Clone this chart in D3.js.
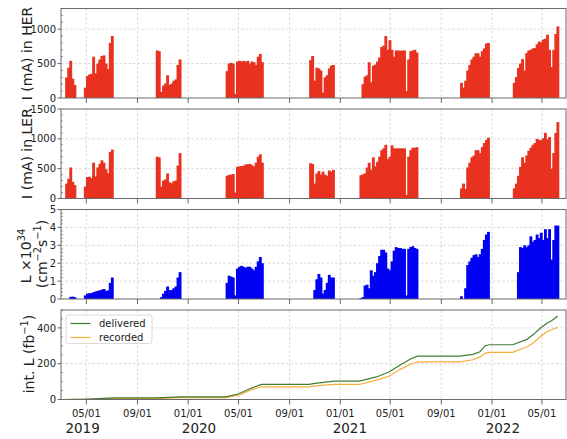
<!DOCTYPE html>
<html>
<head>
<meta charset="utf-8">
<script src="https://cdn.jsdelivr.net/npm/d3@7"></script>
<style>
  body { margin: 0; background: #fff; }
  text { font-family: "DejaVu Sans", sans-serif; fill: #222; }
</style>
</head>
<body>
<svg id="chart" width="567" height="439"></svg>
<script>
const parse = d3.timeParse('%Y-%m-%d');

// each run is a sequence of 5-day bins starting at runStarts[i]
const BIN_DAYS = 5;
const runStarts = ['2019-03-11', '2019-04-25', '2019-10-15', '2020-03-31',
  '2020-10-18', '2021-02-16', '2021-10-16', '2022-02-20'];

const herRuns = [
  [300, 440, 540, 280, 190],
  [150, 320, 340, 350, 600, 360, 500, 560, 610, 620, 500, 420, 800, 900],
  [690, 680, 90, 180, 210, 330, 190, 210, 250, 270, 480, 560],
  [390, 500, 510, 500, 60, 530, 540, 530, 540, 530, 540, 500, 530, 520, 480, 600, 640, 520],
  [550, 610, 250, 440, 430, 400, 80, 300, 330, 430, 470, 480],
  [0, 200, 310, 330, 520, 230, 470, 485, 530, 590, 740, 760, 900, 700, 840, 700, 600, 690,
    690, 685, 690, 690, 100, 560, 680, 690, 700, 660],
  [220, 150, 250, 400, 480, 560, 600, 650, 650, 600, 680, 720, 790, 800],
  [220, 304, 435, 500, 565, 400, 652, 690, 700, 720, 725, 780, 820, 810, 850, 860, 920, 700,
    450, 700, 930, 1040]
];

const lerRuns = [
  [250, 330, 520, 280, 225],
  [200, 360, 365, 340, 600, 370, 520, 580, 640, 600, 490, 420, 780, 820],
  [700, 690, 200, 300, 320, 420, 270, 255, 290, 300, 550, 760],
  [380, 395, 400, 410, 100, 530, 540, 545, 550, 570, 575, 580, 560, 540, 600, 700, 740, 600],
  [590, 580, 250, 420, 460, 400, 450, 400, 380, 470, 450, 480],
  [390, 405, 420, 520, 600, 480, 690, 540, 615, 700, 810, 840, 900, 660, 700, 890, 840, 840,
    840, 840, 840, 840, 60, 700, 810, 850, 850, 860],
  [170, 250, 160, 520, 600, 690, 720, 810, 810, 760, 860, 930, 980, 1020],
  [170, 250, 380, 530, 690, 600, 720, 800, 850, 900, 930, 1000, 980, 980, 1010, 1100, 990,
    1030, 500, 760, 1100, 1280]
];

const lumiRuns = [
  [0, 0, 0.12, 0.13, 0.1],
  [0.2, 0.3, 0.32, 0.33, 0.38, 0.42, 0.45, 0.48, 0.52, 0.56, 0.45, 0.48, 0.9, 1.2],
  [0, 0, 0.1, 0.3, 0.45, 0.7, 0.5, 0.5, 0.6, 0.7, 1.2, 1.5],
  [0.9, 1.3, 1.25, 1.2, 0.2, 1.7, 1.8, 1.85, 1.8, 1.75, 1.8, 1.8, 1.7, 1.6, 1.8, 2.1, 2.35, 2.0],
  [0, 0, 0.5, 1.1, 1.4, 1.2, 0.3, 0.5, 0.9, 1.35, 1.2, 1.2],
  [0.05, 0.1, 0.75, 0.8, 0.6, 1.6, 1.3, 1.5, 2.0, 2.4, 2.75, 2.75, 2.6, 1.7, 1.6, 2.1, 2.7, 2.9,
    2.85, 2.85, 2.8, 2.8, 0.2, 2.8, 2.9, 2.95, 2.85, 2.8],
  [0.15, 0, 0.6, 1.9, 2.1, 2.3, 2.45, 2.5, 2.35, 2.5, 2.8, 3.3, 3.6, 3.75],
  [0, 0, 1.5, 2.9, 2.85, 3.0, 2.9, 3.0, 3.5, 3.2, 3.3, 3.6, 3.4, 3.7, 3.3, 3.9, 3.4, 3.9,
    2.2, 3.3, 4.1, 4.1]
];

// integrated luminosity (fb^-1)
const intDates = ['2019-03-01', '2019-03-11', '2019-04-05', '2019-04-25', '2019-07-04',
  '2019-10-15', '2019-12-14', '2020-03-31', '2020-05-02', '2020-05-28', '2020-06-25',
  '2020-10-18', '2020-11-01', '2020-12-17', '2021-02-16', '2021-03-29', '2021-04-28',
  '2021-05-24', '2021-06-21', '2021-07-06', '2021-10-16', '2021-11-16', '2021-12-03',
  '2021-12-15', '2021-12-25', '2022-02-20', '2022-03-26', '2022-04-11', '2022-04-27',
  '2022-05-13', '2022-05-25', '2022-06-08'];
const intDelivered = [0, 0, 0.5, 0.5, 9, 9, 15, 15, 32, 60, 84, 84, 90, 103, 103, 126, 154,
  191, 229, 242, 242, 252, 267, 299, 306, 306, 336, 364, 398, 426, 441, 466];
const intRecorded = [0, 0, 0.3, 0.3, 5, 5, 10, 10, 24, 51, 71, 71, 76, 84, 84, 108, 130,
  167, 200, 210, 210, 222, 238, 258, 263, 263, 295, 317, 351, 379, 390, 404];

const yearLabels = ['2019', '2020', '2021', '2022'];
const yearLabelDates = ['2019-04-22', '2020-01-27', '2021-01-24', '2022-01-27'];

const RED = '#e8321f';
const BLUE = '#0000f2';
const GREEN = '#3f7d34';
const ORANGE = '#f6ad3a';

const svg = d3.select('#chart');
const left = 61, right = 566, panelH = 89.5;
const panelTops = [8.5, 109, 209.5, 310];

const x = d3.scaleTime()
  .domain([parse('2019-03-01'), parse('2022-06-28')])
  .range([left, right]);
const xTicks = d3.timeMonth.every(4).range(x.domain()[0], x.domain()[1]);

const panels = [
  { runs: herRuns, max: 1300, ticks: [0, 500, 1000], minor: 100, color: RED,
    label: [['I (mA) in HER']], labelX: 32, labelY: 53.5 },
  { runs: lerRuns, max: 1500, ticks: [0, 500, 1000, 1500], minor: 100, color: RED,
    label: [['I (mA) in LER']], labelX: 32, labelY: 153.5 },
  { runs: lumiRuns, max: 5, ticks: [0, 1, 2, 3, 4, 5], minor: 0.2, color: BLUE },
  { max: 500, ticks: [0, 200, 400], minor: 50 }
];

function richText(t, parts, size) {
  let shift = 0;
  parts.forEach(([s, sup]) => {
    const target = sup ? -size * 0.42 : 0;
    t.append('tspan')
      .attr('dy', target - shift)
      .attr('font-size', sup ? size * 0.7 : size)
      .text(s);
    shift = target;
  });
}

function vLabel(cx, cy, parts) {
  const t = svg.append('text')
    .attr('transform', `translate(${cx},${cy}) rotate(-90)`)
    .attr('text-anchor', 'middle')
    .attr('font-size', 14);
  richText(t, parts, 14);
}

panels.forEach((p, k) => {
  const top = panelTops[k], bottom = top + panelH;
  const y = d3.scaleLinear().domain([0, p.max]).range([bottom, top]);
  const g = svg.append('g');

  g.append('clipPath').attr('id', 'clip' + k)
    .append('rect').attr('x', left).attr('y', top)
    .attr('width', right - left).attr('height', panelH);

  // grid
  g.selectAll('.gx').data(xTicks).join('line')
    .attr('x1', d => x(d)).attr('x2', d => x(d))
    .attr('y1', top).attr('y2', bottom)
    .attr('stroke', '#c8c8c8').attr('stroke-width', 0.7)
    .attr('stroke-dasharray', '2.5,2');
  g.selectAll('.gy').data(p.ticks.filter(v => v > 0 && v < p.max)).join('line')
    .attr('x1', left).attr('x2', right)
    .attr('y1', d => y(d)).attr('y2', d => y(d))
    .attr('stroke', '#c8c8c8').attr('stroke-width', 0.7)
    .attr('stroke-dasharray', '2.5,2');

  const plot = g.append('g').attr('clip-path', `url(#clip${k})`);

  if (p.runs) {
    const bars = [];
    p.runs.forEach((vals, r) => {
      const s = parse(runStarts[r]);
      vals.forEach((v, i) => {
        bars.push({
          t0: d3.timeDay.offset(s, i * BIN_DAYS),
          t1: d3.timeDay.offset(s, (i + 1) * BIN_DAYS),
          v
        });
      });
    });
    plot.selectAll('rect').data(bars.filter(b => b.v > 0)).join('rect')
      .attr('x', d => x(d.t0))
      .attr('width', d => x(d.t1) - x(d.t0) + 0.8)
      .attr('y', d => y(d.v))
      .attr('height', d => y(0) - y(d.v))
      .attr('fill', p.color);
  } else {
    const pts = intDates.map((d, i) => ({ t: parse(d), del: intDelivered[i], rec: intRecorded[i] }));
    plot.append('path').datum(pts)
      .attr('fill', 'none').attr('stroke', ORANGE).attr('stroke-width', 1.2)
      .attr('d', d3.line().x(d => x(d.t)).y(d => y(d.rec)));
    plot.append('path').datum(pts)
      .attr('fill', 'none').attr('stroke', GREEN).attr('stroke-width', 1.2)
      .attr('d', d3.line().x(d => x(d.t)).y(d => y(d.del)));

    // legend
    const lg = g.append('g');
    lg.append('rect').attr('x', 66).attr('y', 315).attr('width', 86).attr('height', 28.5)
      .attr('rx', 2.5).attr('fill', 'white').attr('fill-opacity', 0.8)
      .attr('stroke', '#d0d0d0').attr('stroke-width', 0.8);
    [['delivered', GREEN], ['recorded', ORANGE]].forEach(([name, c], i) => {
      const ly = 323.5 + i * 14;
      lg.append('line').attr('x1', 70.5).attr('x2', 90.5).attr('y1', ly).attr('y2', ly)
        .attr('stroke', c).attr('stroke-width', 1.2);
      lg.append('text').attr('x', 99).attr('y', ly + 3.6).attr('font-size', 10).text(name);
    });
  }

  // frame
  g.append('rect').attr('x', left).attr('y', top)
    .attr('width', right - left).attr('height', panelH)
    .attr('fill', 'none').attr('stroke', '#6a6a6a').attr('stroke-width', 1);

  // x ticks (outward)
  g.selectAll('.xt').data(xTicks).join('line')
    .attr('x1', d => x(d)).attr('x2', d => x(d))
    .attr('y1', bottom).attr('y2', bottom + 5)
    .attr('stroke', '#555').attr('stroke-width', 0.9);

  // y major ticks (outward) and minor ticks (inward)
  g.selectAll('.yt').data(p.ticks).join('line')
    .attr('x1', left - 3.5).attr('x2', left)
    .attr('y1', d => y(d)).attr('y2', d => y(d))
    .attr('stroke', '#555').attr('stroke-width', 0.9);
  const minors = d3.range(0, p.max + 1e-9, p.minor).filter(v => !p.ticks.some(t => Math.abs(t - v) < 1e-9));
  g.selectAll('.ym').data(minors).join('line')
    .attr('x1', left).attr('x2', left + 2)
    .attr('y1', d => y(d)).attr('y2', d => y(d))
    .attr('stroke', '#555').attr('stroke-width', 0.6);
  g.selectAll('.yl').data(p.ticks).join('text')
    .attr('x', left - 5).attr('y', d => y(d) + 3.6)
    .attr('text-anchor', 'end').attr('font-size', 10)
    .text(d => d);

  if (p.label) vLabel(p.labelX, p.labelY, p.label);

  if (k === 3) {
    g.selectAll('.xl').data(xTicks).join('text')
      .attr('x', d => x(d)).attr('y', 416.5)
      .attr('text-anchor', 'middle').attr('font-size', 10)
      .text(d3.timeFormat('%m/%d'));
    g.selectAll('.yr').data(yearLabels).join('text')
      .attr('x', (d, i) => x(parse(yearLabelDates[i]))).attr('y', 432.5)
      .attr('text-anchor', 'middle').attr('font-size', 13.5)
      .text(d => d);
  }
});

vLabel(31, 256, [['L ×10'], ['34', true]]);
vLabel(46.5, 254, [['(cm'], ['−2', true], ['s'], ['−1', true], [')']]);
vLabel(34, 354, [['int. L (fb'], ['−1', true], [')']]);
</script>
</body>
</html>
